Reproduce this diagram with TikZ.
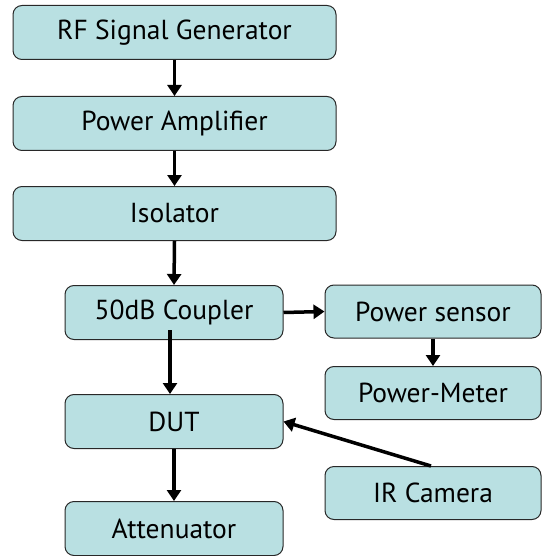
\documentclass[tikz,border=0pt]{standalone}
\usepackage{fontspec}
\setmainfont{PT Sans}
\usetikzlibrary{arrows.meta}
\definecolor{boxfill}{RGB}{185,224,226}
\definecolor{boxline}{RGB}{40,40,40}
\tikzset{
  block/.style={draw=boxline, fill=boxfill, rounded corners=9pt, line width=1pt,
    inner sep=0pt, minimum height=54pt, font=\fontsize{27.5}{31}\selectfont},
  wideblock/.style={block, minimum width=323pt},
  leftblock/.style={block, minimum width=218pt},
  rightblock/.style={block, minimum width=216pt, minimum height=53pt},
  flow/.style={line width=3.5pt, -{Triangle[length=11pt,width=14pt]}}
}
\begin{document}
\begin{tikzpicture}[x=1pt,y=-1pt]
\useasboundingbox (0,0) rectangle (542,556);
% main chain
\node[wideblock] (gen) at (174.5,32.5) {RF Signal Generator};
\node[wideblock] (amp) at (174.5,123.5) {Power Amplifier};
\node[wideblock] (iso) at (174.5,213.5) {Isolator};
\node[leftblock] (coup) at (174,312.5) {50dB Coupler};
\node[leftblock] (dut) at (174,421.5) {DUT};
\node[leftblock] (att) at (174,528.5) {Attenuator};
% measurement side
\node[rightblock] (sens) at (433,311.5) {Power sensor};
\node[rightblock] (meter) at (433,393) {Power-Meter};
\node[rightblock] (cam) at (433,493) {IR Camera};
% connectors
\draw[flow] (gen.south) -- (amp.north);
\draw[flow] (amp.south) -- (iso.north);
\draw[flow] (iso.south) -- (coup.north);
\draw[flow] (coup.east) -- (sens.west);
\draw[flow] (sens.south) -- (meter.north);
\draw[flow] ([xshift=-4pt,yshift=10pt]coup.south) -- ([xshift=-4pt]dut.north);
\draw[flow] (dut.south) -- (att.north);
\draw[flow] ([xshift=-2pt]cam.north) -- (dut.east);
\end{tikzpicture}
\end{document}
